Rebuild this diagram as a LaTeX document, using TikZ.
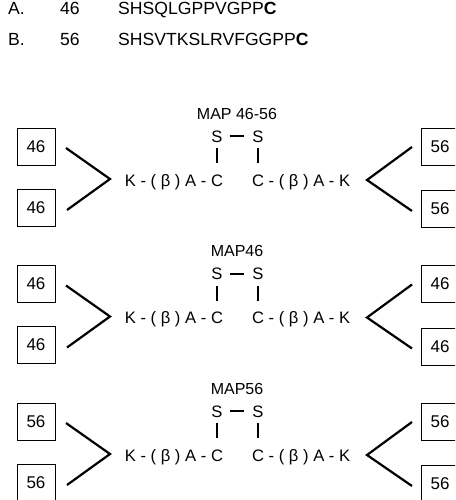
\documentclass[tikz,border=0pt]{standalone}
\usepackage{fontspec}
\setmainfont{Liberation Sans}
\usetikzlibrary{positioning}
\tikzset{
  lbl/.style={inner sep=0pt, font=\fontsize{16.6}{20}\selectfont},
  seq/.style={inner sep=0pt, anchor=base west, font=\fontsize{17.6}{21}\selectfont},
  pepbox/.style={draw, inner sep=0pt, line width=0.9pt, minimum width=38pt, minimum height=37pt,
    font=\fontsize{17}{20}\selectfont},
  bond/.style={line width=2.4pt},
  arm/.style={line width=2.2pt}
}

\begin{document}
\begin{tikzpicture}[x=1pt,y=-1pt]
  \clip (0,0) rectangle (455,500);

  % Peptide sequences
  \node[seq] (labA) at (8,15) {A.};
  \node[seq] (numA) at (60,15) {46};
  \node[seq] (seqA) at (118,15) {SHSQLGPPVGPP\textbf{C}};
  \node[seq] (labB) at (8,46) {B.};
  \node[seq] (numB) at (60,46) {56};
  \node[seq] (seqB) at (118,46) {SHSVTKSLRVFGGPP\textbf{C}};

  % Draw the three dimers
  \foreach \i/\ttl/\lt/\rt in {0/MAP 46-56/46/56, 1/MAP46/46/46, 2/MAP56/56/56} {
    \pgfmathsetmacro\dy{137.5*\i}
    \begin{scope}[yshift=-\dy pt]
      \node[lbl, anchor=base, font=\fontsize{16}{19}\selectfont] (title\i) at (237,119) {\ttl};
      \node[lbl, anchor=base] (sl\i) at (217,142) {S};
      \node[lbl, anchor=base] (sr\i) at (258,142) {S};
      \node[lbl, anchor=base] (cl\i) at (217,186) {C};
      \node[lbl, anchor=base] (cr\i) at (258,186) {C};
      \node[lbl, left=4.3pt of cl\i.base west, anchor=base east] (kl\i) {K - ( β ) A -};
      \node[lbl, right=4.3pt of cr\i.base east, anchor=base west] (kr\i) {- ( β ) A - K};

      % disulfide bridge
      \draw[bond, shorten <=7pt, shorten >=8pt] (sl\i.east) -- (sr\i.west);
      \draw[bond, shorten <=6pt, shorten >=11pt] (sl\i.south) -- (cl\i.north);
      \draw[bond, shorten <=6pt, shorten >=11pt] (sr\i.south) -- (cr\i.north);

      % branches to the peptides
      \coordinate (lt\i) at (110,179);
      \coordinate (la\i) at (66,148);
      \coordinate (lb\i) at (67,210);
      \coordinate (rt\i) at (367,180);
      \coordinate (ra\i) at (412,147);
      \coordinate (rb\i) at (412,211);
      \draw[arm] (la\i) -- (lt\i) -- (lb\i);
      \draw[arm] (ra\i) -- (rt\i) -- (rb\i);

      \node[pepbox] (bla\i) at (36,146.5) {\lt};
      \node[pepbox] (blb\i) at (36,207.5) {\lt};
      \node[pepbox] (bra\i) at (440,146.5) {\rt};
      \node[pepbox] (brb\i) at (440,209) {\rt};
    \end{scope}
  }
\end{tikzpicture}
\end{document}
